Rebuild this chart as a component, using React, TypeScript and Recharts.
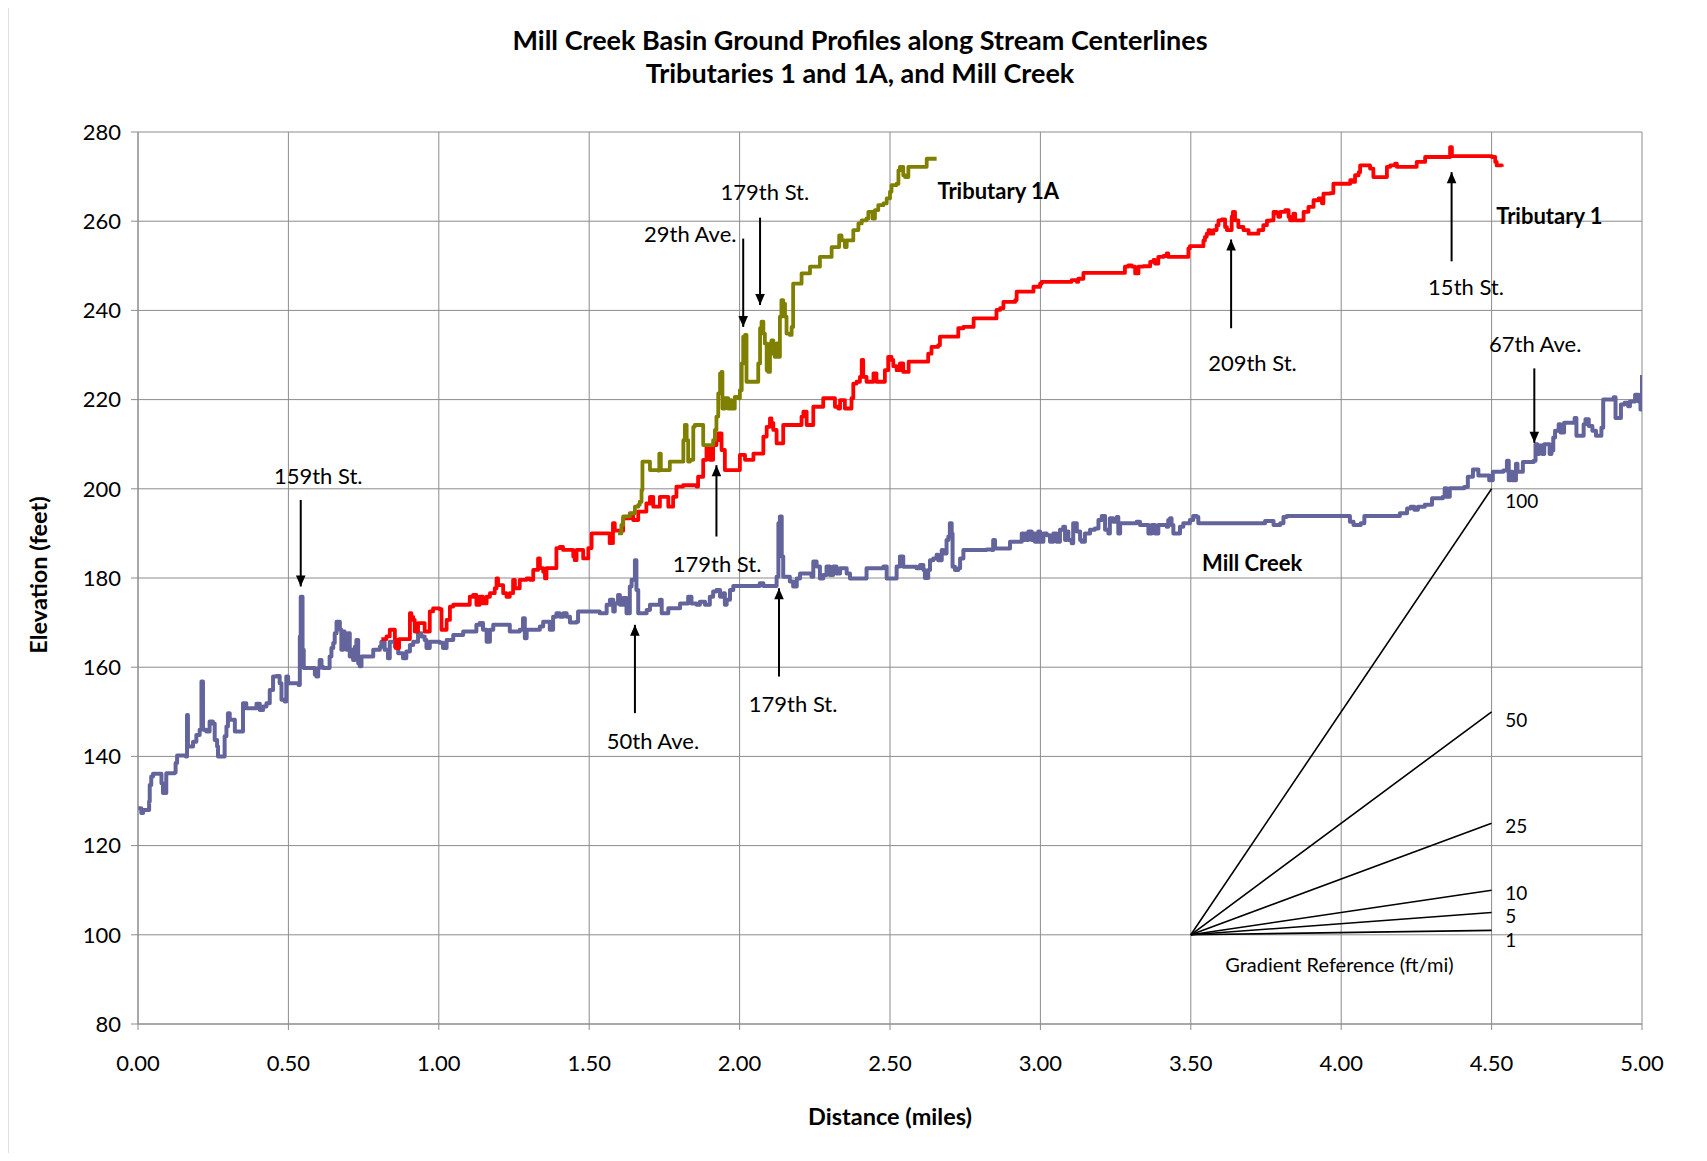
import React from 'react';
import { ComposedChart, Line, XAxis, YAxis, CartesianGrid } from 'recharts';

const FONT = "Lato, 'Open Sans', sans-serif";

const xTicks = [0, 0.5, 1, 1.5, 2, 2.5, 3, 3.5, 4, 4.5, 5];
const yTicks = [80, 100, 120, 140, 160, 180, 200, 220, 240, 260, 280];

const millCreek: [number, number][] = [
  [0, 128.4], [0.011, 127.3], [0.017, 128.0], [0.033, 128.0], [0.037, 129.9], [0.039, 133.6], [0.044, 135.5], [0.05, 136.1], [0.072, 136.1], [0.078, 134.0], [0.083, 131.8], [0.092, 131.8], [0.094, 136.2], [0.122, 136.4], [0.125, 138.5], [0.13, 140.2], [0.159, 140.0], [0.163, 149.3], [0.166, 142.2], [0.172, 142.2], [0.183, 143.3], [0.194, 144.8], [0.205, 146.0], [0.211, 156.8], [0.216, 146.0], [0.227, 145.6], [0.238, 147.8], [0.249, 147.4], [0.255, 143.7], [0.263, 142.2], [0.266, 140.0], [0.283, 140.0], [0.288, 144.5], [0.294, 146.7], [0.299, 149.7], [0.305, 148.2], [0.316, 148.2], [0.322, 145.6], [0.344, 145.6], [0.349, 151.9], [0.36, 150.8], [0.377, 150.8], [0.394, 151.8], [0.405, 150.4], [0.416, 151.2], [0.427, 151.9], [0.438, 154.9], [0.449, 157.9], [0.46, 158.0], [0.471, 156.4], [0.477, 152.7], [0.488, 152.3], [0.493, 157.9], [0.499, 156.4], [0.534, 156.0], [0.538, 166.9], [0.541, 175.8], [0.547, 163.9], [0.551, 159.8], [0.582, 159.8], [0.588, 158.3], [0.593, 157.9], [0.599, 159.8], [0.604, 161.6], [0.61, 160.1], [0.615, 159.8], [0.632, 159.8], [0.637, 162.4], [0.643, 164.3], [0.649, 165.4], [0.654, 167.6], [0.66, 170.2], [0.665, 170.2], [0.671, 168.4], [0.676, 163.9], [0.682, 168.0], [0.687, 166.1], [0.693, 163.9], [0.698, 167.6], [0.704, 162.4], [0.71, 163.9], [0.715, 161.6], [0.721, 164.6], [0.726, 166.1], [0.732, 160.9], [0.737, 160.2], [0.743, 162.4], [0.771, 162.4], [0.782, 163.9], [0.804, 164.6], [0.809, 165.7], [0.82, 163.9], [0.831, 162.0],
  [0.837, 165.7], [0.854, 164.6], [0.865, 163.1], [0.881, 162.0], [0.892, 163.5], [0.904, 165.0], [0.915, 165.7], [0.931, 167.6], [0.942, 166.9], [0.953, 166.1], [0.959, 164.3], [0.97, 165.7], [1.003, 165.5], [1.014, 164.3], [1.026, 166.1], [1.048, 167.2], [1.081, 168.0], [1.114, 168.0], [1.125, 169.5], [1.136, 169.9], [1.147, 168.4], [1.159, 165.7], [1.17, 168.4], [1.181, 169.5], [1.225, 169.5],
  [1.236, 168.0], [1.269, 168.4], [1.28, 171.0], [1.286, 166.5], [1.292, 168.4], [1.336, 169.1], [1.347, 170.2], [1.358, 170.2], [1.369, 168.4], [1.38, 171.3], [1.391, 172.1], [1.402, 171.3], [1.414, 172.1], [1.425, 171.3], [1.436, 170.0], [1.458, 170.2], [1.463, 172.5], [1.535, 172.1], [1.558, 174.0], [1.569, 175.1], [1.58, 172.5], [1.585, 174.3], [1.596, 176.2], [1.602, 174.0], [1.613, 175.5], [1.624, 172.1], [1.635, 178.1], [1.641, 179.6], [1.652, 184.0], [1.657, 177.3], [1.663, 172.1], [1.68, 172.1], [1.691, 172.8], [1.702, 174.0], [1.735, 175.1], [1.741, 172.1], [1.752, 172.1], [1.763, 173.2], [1.802, 174.3], [1.829, 175.8], [1.84, 174.3], [1.857, 174.0], [1.868, 174.7], [1.885, 174.0], [1.901, 175.8], [1.912, 177.0], [1.923, 177.3], [1.935, 175.8], [1.946, 176.6], [1.951, 174.0], [1.957, 175.1], [1.968, 177.3], [1.979, 178.2], [2.067, 178.8], [2.079, 178.2], [2.117, 178.2], [2.123, 180.3], [2.129, 192.3], [2.134, 193.8], [2.14, 184.8], [2.145, 180.3], [2.167, 179.2], [2.178, 178.1], [2.19, 179.9], [2.201, 181.0], [2.239, 180.3], [2.245, 183.7], [2.256, 182.6], [2.267, 179.9], [2.278, 180.7], [2.289, 182.6], [2.3, 180.7], [2.311, 182.6], [2.322, 181.0], [2.334, 182.2], [2.356, 181.0], [2.367, 179.9], [2.411, 179.9], [2.422, 182.2], [2.478, 182.6], [2.489, 179.9], [2.5, 179.9], [2.522, 182.6], [2.533, 184.8],
  [2.544, 182.5], [2.588, 182.2], [2.6, 182.9], [2.611, 181.8], [2.616, 180.0], [2.622, 180.0], [2.627, 181.8], [2.633, 184.0], [2.644, 184.4], [2.655, 185.2], [2.66, 184.0], [2.672, 186.3], [2.677, 185.5], [2.688, 188.5], [2.694, 189.3], [2.699, 192.3], [2.705, 190.0], [2.708, 182.5], [2.716, 181.8], [2.727, 182.2], [2.733, 184.4], [2.744, 186.3], [2.821, 186.4], [2.838, 186.3], [2.843, 188.5], [2.849, 186.6], [2.888, 186.6], [2.899, 188.1], [2.932, 188.1], [2.938, 190.0], [2.943, 188.5], [2.949, 190.0], [2.954, 188.5], [2.96, 190.4], [2.971, 188.5], [2.976, 190.0], [2.982, 188.1], [2.993, 190.4], [2.999, 188.1], [3.01, 190.0], [3.021, 189.6], [3.032, 188.1], [3.043, 190.0], [3.054, 188.1], [3.065, 190.8], [3.076, 191.5], [3.082, 188.5], [3.087, 190.4], [3.093, 188.5], [3.104, 187.8], [3.109, 192.3], [3.121, 190.4], [3.132, 188.5], [3.137, 188.1], [3.148, 190.0], [3.165, 190.8], [3.181, 191.1], [3.193, 193.0], [3.204, 193.9], [3.215, 190.8], [3.226, 190.0], [3.231, 193.4], [3.242, 192.6], [3.254, 193.7], [3.259, 190.0], [3.265, 192.3], [3.32, 192.6], [3.331, 191.9], [3.353, 191.9], [3.359, 190.0], [3.37, 191.9], [3.381, 190.0], [3.392, 191.9], [3.42, 191.5], [3.425, 193.0], [3.431, 193.4], [3.436, 191.9], [3.442, 190.0], [3.459, 190.0], [3.464, 191.5], [3.475, 192.3], [3.497, 193.0], [3.508, 193.9], [3.52, 193.7], [3.525, 192.3], [3.73, 192.3], [3.747, 192.8], [3.775, 191.9], [3.797, 192.3], [3.808, 193.7], [3.819, 193.9], [4.018, 193.9], [4.029, 192.6], [4.041, 191.9],
  [4.065, 192.3], [4.077, 193.9], [4.184, 193.9], [4.195, 194.5], [4.219, 195.6], [4.231, 196.0], [4.243, 195.3], [4.255, 196.0], [4.278, 196.4], [4.302, 197.9], [4.338, 198.2], [4.344, 200.1], [4.35, 198.2], [4.361, 200.1], [4.409, 200.4], [4.421, 202.7], [4.438, 204.3], [4.456, 203.0], [4.48, 203.0], [4.492, 201.9], [4.504, 203.8], [4.539, 204.1], [4.551, 206.3], [4.557, 201.9], [4.563, 203.8], [4.569, 201.9], [4.581, 205.6], [4.586, 203.8], [4.604, 206.0], [4.64, 206.3], [4.646, 210.0], [4.652, 207.8], [4.658, 209.7], [4.669, 207.8], [4.675, 210.0], [4.693, 207.8], [4.699, 208.6], [4.705, 211.5], [4.711, 213.0], [4.723, 214.5], [4.729, 212.6], [4.741, 214.8], [4.776, 215.9], [4.782, 211.9], [4.8, 211.9], [4.806, 214.5], [4.812, 215.6], [4.823, 214.1], [4.835, 213.0], [4.847, 211.9], [4.865, 213.7], [4.871, 220.0], [4.906, 220.5], [4.912, 215.9], [4.924, 215.9], [4.93, 218.9], [4.942, 219.3], [4.954, 218.5], [4.96, 219.6], [4.977, 221.1], [4.989, 219.6], [4.995, 217.8], [4.999, 218.2], [5.0, 225.5],
];

const tributary1: [number, number][] = [
  [0.809, 166.3], [0.826, 166.9], [0.837, 168.4], [0.848, 168.4], [0.854, 166.3], [0.857, 164.3], [0.865, 164.3], [0.868, 166.3], [0.898, 166.3], [0.904, 172.1], [0.909, 171.3], [0.915, 170.6], [0.92, 168.0], [0.931, 169.9], [0.942, 169.9], [0.953, 168.0], [0.964, 168.0], [0.97, 172.5], [0.981, 173.2], [1.003, 173.0], [1.009, 168.4], [1.02, 168.4], [1.026, 170.6], [1.037, 173.6], [1.048, 174.0], [1.092, 174.0], [1.103, 175.8], [1.114, 176.2], [1.125, 174.0], [1.136, 175.8], [1.147, 174.3], [1.159, 175.8], [1.17, 176.6], [1.186, 177.7], [1.192, 179.9], [1.197, 178.4], [1.214, 176.6], [1.225, 175.8], [1.236, 176.6], [1.247, 179.6], [1.253, 177.7], [1.269, 179.6], [1.292, 179.9], [1.303, 179.6], [1.314, 181.8], [1.33, 184.4], [1.336, 182.2], [1.347, 181.4], [1.353, 179.9], [1.358, 182.2], [1.38, 182.2], [1.391, 186.7], [1.402, 187.0], [1.413, 186.3], [1.441, 186.3], [1.447, 184.8], [1.452, 184.0], [1.458, 186.3], [1.474, 186.3], [1.48, 184.4], [1.491, 184.4], [1.497, 186.7], [1.508, 190.0],
  [1.557, 190.0], [1.568, 187.8], [1.579, 192.3], [1.585, 190.6], [1.607, 190.6], [1.613, 193.4], [1.635, 194.5], [1.646, 193.0], [1.663, 194.9], [1.69, 196.7], [1.702, 198.2], [1.713, 196.0], [1.735, 198.2], [1.752, 198.2], [1.763, 196.0], [1.779, 198.2], [1.79, 200.5], [1.812, 200.8], [1.857, 200.5], [1.862, 202.7], [1.879, 206.5], [1.89, 209.4], [1.901, 206.5], [1.912, 209.8], [1.923, 210.9], [1.929, 212.4], [1.94, 208.7], [1.951, 204.2], [1.99, 204.2], [2.001, 207.6], [2.018, 206.5], [2.04, 206.5], [2.046, 207.9], [2.068, 207.9], [2.079, 211.7], [2.09, 213.9], [2.101, 215.8], [2.106, 214.8], [2.112, 213.2], [2.123, 210.2], [2.14, 210.2], [2.145, 214.3], [2.189, 214.3], [2.206, 216.2], [2.212, 217.3], [2.223, 214.3], [2.239, 214.3], [2.245, 218.4], [2.267, 218.4], [2.278, 220.3], [2.311, 220.3], [2.317, 218.4], [2.328, 218.0], [2.334, 219.9], [2.345, 219.9], [2.35, 218.0], [2.367, 218.0], [2.372, 220.3], [2.378, 223.6], [2.389, 224.0], [2.4, 225.1], [2.406, 228.9], [2.411, 225.1], [2.422, 224.0], [2.433, 224.0], [2.445, 225.9], [2.455, 224.0], [2.478, 224.0], [2.483, 226.6], [2.494, 229.6], [2.505, 228.9], [2.511, 227.5], [2.522, 226.6], [2.533, 228.1], [2.544, 226.2], [2.561, 226.2], [2.562, 228.5], [2.622, 228.5], [2.627, 230.3], [2.638, 231.8], [2.66, 232.2], [2.666, 234.1], [2.722, 234.1], [2.727, 236.0], [2.744, 236.3], [2.777, 236.3], [2.778, 238.2], [2.843, 238.2], [2.854, 240.1], [2.866, 240.5],
  [2.877, 241.9], [2.916, 242.3], [2.921, 244.2], [2.966, 244.2], [2.977, 245.3], [2.999, 246.0], [3.004, 246.4], [3.099, 246.4], [3.104, 246.8], [3.121, 246.4], [3.126, 247.1], [3.143, 248.4], [3.27, 248.4], [3.281, 249.8], [3.292, 250.1], [3.304, 249.8], [3.315, 248.3], [3.32, 248.3], [3.326, 249.8], [3.342, 249.9], [3.359, 249.9], [3.365, 250.9], [3.376, 251.3], [3.381, 250.5], [3.392, 252.0], [3.409, 252.2], [3.42, 252.8], [3.425, 252.0], [3.486, 252.0], [3.492, 253.9], [3.497, 254.4], [3.531, 254.4], [3.542, 255.7], [3.547, 256.5], [3.553, 257.2], [3.559, 258.0], [3.564, 257.2], [3.575, 258.0], [3.586, 259.1], [3.592, 260.2], [3.603, 260.4], [3.614, 258.7], [3.62, 258.0], [3.631, 258.0], [3.636, 261.0], [3.64, 262.1], [3.647, 260.2], [3.658, 258.7], [3.675, 258.0], [3.692, 257.2], [3.714, 257.2], [3.725, 258.0], [3.741, 259.1], [3.753, 260.1], [3.764, 260.2], [3.775, 262.1], [3.786, 261.7], [3.791, 261.0], [3.797, 262.1], [3.814, 262.5], [3.825, 261.0], [3.83, 260.2], [3.841, 261.7], [3.847, 260.2], [3.863, 260.2], [3.875, 262.1], [3.891, 263.2], [3.908, 264.7], [3.925, 265.1], [3.936, 264.0], [3.941, 266.2], [3.963, 266.3], [3.974, 268.4], [4.024, 268.4], [4.03, 269.2], [4.041, 268.8], [4.046, 270.3], [4.058, 271.0], [4.063, 272.5], [4.085, 272.5], [4.096, 271.8], [4.107, 269.9], [4.146, 269.9], [4.152, 272.2], [4.163, 272.5], [4.179, 272.9], [4.185, 272.2], [4.24, 272.2], [4.251, 273.3], [4.268, 273.3], [4.279, 274.4], [4.357, 274.4], [4.362, 276.6], [4.368, 274.6], [4.501, 274.4], [4.512, 273.3], [4.517, 272.5], [4.534, 272.2],
];

const tributary1A: [number, number][] = [
  [1.596, 190.0], [1.607, 191.9], [1.613, 193.8], [1.629, 193.8], [1.635, 194.5], [1.646, 194.5], [1.652, 196.0], [1.663, 196.4], [1.668, 197.1], [1.674, 199.7], [1.677, 206.1], [1.696, 206.1], [1.702, 204.2], [1.729, 204.1], [1.733, 207.9], [1.738, 204.2], [1.763, 204.2], [1.768, 206.1], [1.807, 206.1], [1.813, 210.9], [1.818, 214.3], [1.824, 210.9], [1.829, 206.1], [1.835, 206.5], [1.846, 213.9], [1.851, 214.3], [1.873, 214.3], [1.879, 209.8], [1.901, 209.8], [1.912, 210.9], [1.918, 213.2], [1.923, 216.2], [1.929, 221.4], [1.935, 225.9], [1.94, 226.2], [1.943, 218.0], [1.951, 220.3], [1.962, 218.0], [1.968, 219.9], [1.973, 218.0], [1.984, 220.6], [1.996, 220.3], [2.001, 222.1], [2.007, 228.1], [2.012, 234.1], [2.018, 234.5], [2.023, 224.0], [2.056, 224.0], [2.062, 228.1], [2.068, 236.0], [2.073, 237.5], [2.079, 234.8], [2.084, 232.6], [2.09, 226.6], [2.095, 226.2], [2.101, 232.6], [2.106, 233.3], [2.112, 230.3], [2.117, 229.6], [2.123, 232.6], [2.128, 229.6], [2.134, 238.6], [2.139, 242.3], [2.145, 241.5], [2.151, 238.6], [2.156, 234.8], [2.167, 234.5], [2.173, 236.3], [2.178, 246.0], [2.2, 246.0], [2.206, 248.3], [2.228, 248.3], [2.234, 249.8], [2.262, 249.8], [2.267, 252.0], [2.3, 252.0], [2.306, 254.2], [2.328, 254.2], [2.331, 256.8], [2.339, 255.7], [2.35, 254.2], [2.356, 255.7], [2.378, 258.0], [2.395, 259.5], [2.406, 260.2], [2.422, 260.6], [2.428, 262.1], [2.439, 262.1], [2.442, 260.6], [2.45, 262.5], [2.461, 263.6], [2.478, 264.0], [2.489, 265.1], [2.5, 266.6], [2.505, 268.1], [2.522, 268.4], [2.528, 271.4], [2.533, 272.2], [2.544, 270.3], [2.55, 269.9], [2.561, 272.2], [2.611, 272.2], [2.622, 274.0], [2.655, 274.0],
];

const gradientSlopes = [1, 5, 10, 25, 50, 100];
const gradientOrigin = { x: 3.5, y: 100 };
const gradientEndX = 4.5;

const arrows = [
  { x: 0.541, from: 197.5, to: 178.1 },
  { x: 1.652, from: 149.7, to: 169.5 },
  { x: 2.131, from: 157.9, to: 177.7 },
  { x: 1.923, from: 189.3, to: 205.3 },
  { x: 2.012, from: 256.1, to: 236.3 },
  { x: 2.068, from: 260.8, to: 241.2 },
  { x: 3.634, from: 236.0, to: 255.9 },
  { x: 4.367, from: 251.0, to: 271.0 },
  { x: 4.642, from: 227.0, to: 210.3 },
];

const streetLabels = [
  { text: '159th St.', x: 0.599, y: 202.9 },
  { text: '50th Ave.', x: 1.712, y: 143.3 },
  { text: '179th St.', x: 2.178, y: 151.6 },
  { text: '179th St.', x: 1.925, y: 183.1 },
  { text: '29th Ave.', x: 1.836, y: 257.0 },
  { text: '179th St.', x: 2.084, y: 266.4 },
  { text: '209th St.', x: 3.705, y: 228.1 },
  { text: '15th St.', x: 4.415, y: 245.1 },
  { text: '67th Ave.', x: 4.645, y: 232.4 },
];

const seriesLabels = [
  { text: 'Tributary 1A', x: 2.86, y: 266.6 },
  { text: 'Tributary 1', x: 4.692, y: 261.2 },
  { text: 'Mill Creek', x: 3.704, y: 183.2 },
];

const gradientLabels = [
  { text: '100', x: 4.545, y: 197.1 },
  { text: '50', x: 4.545, y: 148.0 },
  { text: '25', x: 4.545, y: 124.4 },
  { text: '10', x: 4.545, y: 109.3 },
  { text: '5', x: 4.545, y: 104.1 },
  { text: '1', x: 4.545, y: 98.8 },
];
const gradientCaption = [{ text: 'Gradient Reference (ft/mi)', x: 3.994, y: 93.2 }];

const toPts = (arr: [number, number][]) => arr.map(([x, y]) => ({ x, y }));

const makeTextDot = (size: number, weight: string, anchor: string) => (p: any) => (
  <text
    key={`t-${p.index}-${p.cx}`}
    x={p.cx}
    y={p.cy}
    dy="0.35em"
    textAnchor={anchor}
    fontSize={size}
    fontWeight={weight}
    fontFamily={FONT}
    fill="#000"
  >
    {p.payload.text}
  </text>
);

const arrowDot = (p: any) => {
  if (p.index !== 1) return <g key={`a-${p.index}-${p.cx}`} />;
  const down = p.payload.dir === 'down';
  const h = 11;
  const w = 4.8;
  const by = down ? p.cy - h : p.cy + h;
  return (
    <polygon
      key={`a-${p.index}-${p.cx}`}
      points={`${p.cx - w},${by} ${p.cx + w},${by} ${p.cx},${p.cy}`}
      fill="#000"
    />
  );
};

export default function App() {
  const W = 1691;
  const H = 1145;
  return (
    <div style={{ position: 'relative', width: W, height: H }}>
      <ComposedChart
        width={W}
        height={H}
        margin={{ top: 124, right: 57, bottom: 69, left: 60 }}
      >
        <CartesianGrid stroke="#8c8c8c" strokeWidth={1} />
        <XAxis
          type="number"
          dataKey="x"
          domain={[0, 5]}
          ticks={xTicks}
          interval={0}
          allowDataOverflow
          height={60}
          tickFormatter={(v: number) => v.toFixed(2)}
          tickSize={6}
          tickMargin={25}
          stroke="#8c8c8c"
          tick={{ fontSize: 22, fill: '#000', fontFamily: FONT }}
        />
        <YAxis
          type="number"
          dataKey="y"
          domain={[80, 280]}
          ticks={yTicks}
          interval={0}
          allowDataOverflow
          width={70}
          tickSize={7}
          tickMargin={10}
          stroke="#8c8c8c"
          tick={{ fontSize: 22, fill: '#000', fontFamily: FONT }}
        />
        <Line type="stepAfter" data={toPts(millCreek)} dataKey="y" stroke="#64649c" strokeWidth={4} strokeLinejoin="round" dot={false} activeDot={false} isAnimationActive={false} />
        <Line type="stepAfter" data={toPts(tributary1)} dataKey="y" stroke="#ff0000" strokeWidth={3.8} strokeLinejoin="round" dot={false} activeDot={false} isAnimationActive={false} />
        <Line type="stepAfter" data={toPts(tributary1A)} dataKey="y" stroke="#808000" strokeWidth={3.8} strokeLinejoin="round" dot={false} activeDot={false} isAnimationActive={false} />
        {gradientSlopes.map((g) => (
          <Line
            key={`g${g}`}
            data={[
              { x: gradientOrigin.x, y: gradientOrigin.y },
              { x: gradientEndX, y: gradientOrigin.y + g * (gradientEndX - gradientOrigin.x) },
            ]}
            dataKey="y"
            stroke="#000"
            strokeWidth={1.6}
            dot={false}
            activeDot={false}
            isAnimationActive={false}
          />
        ))}
        {arrows.map((a, i) => (
          <Line
            key={`arr${i}`}
            data={[
              { x: a.x, y: a.from, dir: a.to < a.from ? 'down' : 'up' },
              { x: a.x, y: a.to, dir: a.to < a.from ? 'down' : 'up' },
            ]}
            dataKey="y"
            stroke="#000"
            strokeWidth={2}
            dot={arrowDot}
            activeDot={false}
            isAnimationActive={false}
          />
        ))}
        <Line data={streetLabels} dataKey="y" stroke="none" dot={makeTextDot(22, 'normal', 'middle')} activeDot={false} isAnimationActive={false} />
        <Line data={seriesLabels} dataKey="y" stroke="none" dot={makeTextDot(22, 'bold', 'middle')} activeDot={false} isAnimationActive={false} />
        <Line data={gradientLabels} dataKey="y" stroke="none" dot={makeTextDot(19, 'normal', 'start')} activeDot={false} isAnimationActive={false} />
        <Line data={gradientCaption} dataKey="y" stroke="none" dot={makeTextDot(20, 'normal', 'middle')} activeDot={false} isAnimationActive={false} />
      </ComposedChart>
      <svg
        width={1707}
        height={1161}
        style={{ position: 'absolute', left: -8, top: -8, pointerEvents: 'none' }}
      >
        <line x1={7.5} y1={5.5} x2={1707} y2={5.5} stroke="#7f7f7f" strokeWidth={2} />
        <line x1={7.5} y1={5.5} x2={7.5} y2={1161} stroke="#7f7f7f" strokeWidth={1.5} />
        <text x={860} y={41} dy="0.35em" textAnchor="middle" fontSize={27} fontWeight="bold" fontFamily={FONT}>
          Mill Creek Basin Ground Profiles along Stream Centerlines
        </text>
        <text x={860} y={74} dy="0.35em" textAnchor="middle" fontSize={27} fontWeight="bold" fontFamily={FONT}>
          Tributaries 1 and 1A, and Mill Creek
        </text>
        <text x={890} y={1117} dy="0.35em" textAnchor="middle" fontSize={23.5} fontWeight="bold" fontFamily={FONT}>
          Distance (miles)
        </text>
        <text
          x={39}
          y={575}
          dy="0.35em"
          textAnchor="middle"
          fontSize={23.5}
          fontWeight="bold"
          fontFamily={FONT}
          transform="rotate(-90 39 575)"
        >
          Elevation (feet)
        </text>
      </svg>
    </div>
  );
}
